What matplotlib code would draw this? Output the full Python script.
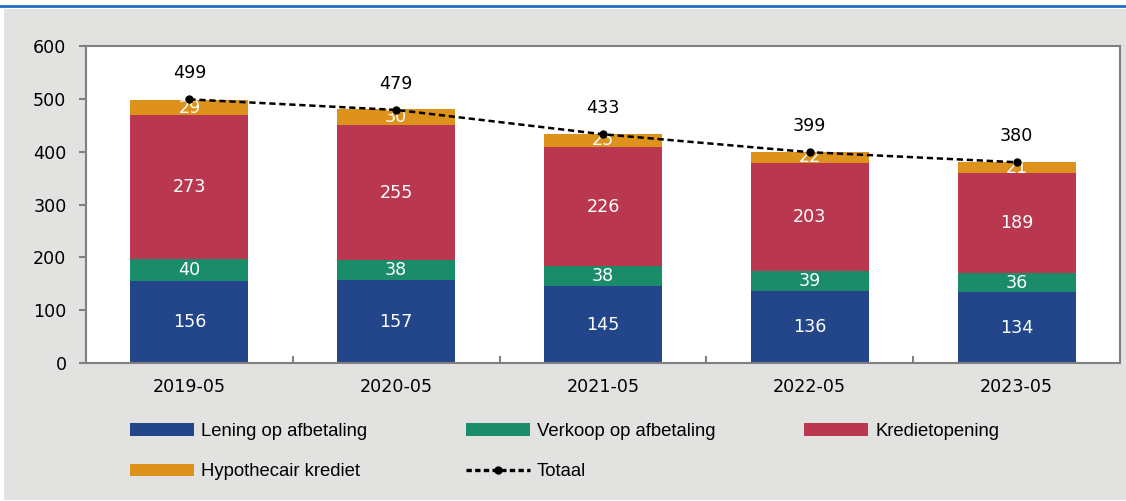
import matplotlib
matplotlib.use("Agg")
import matplotlib.pyplot as plt
from matplotlib.patches import Rectangle, Patch
from matplotlib.lines import Line2D
import numpy as np

plt.rcParams['font.family'] = ['DejaVu Sans']

categories = ["2019-05", "2020-05", "2021-05", "2022-05", "2023-05"]
lening = [156, 157, 145, 136, 134]
verkoop = [40, 38, 38, 39, 36]
krediet = [273, 255, 226, 203, 189]
hypo = [29, 30, 25, 22, 21]
totaal = [499, 479, 433, 399, 380]

series_names = ["Lening op afbetaling", "Verkoop op afbetaling", "Kredietopening", "Hypothecair krediet"]
colors = ["#23468a", "#1a8c6a", "#b9384f", "#dd921c"]

W, H = 1126, 501
fig = plt.figure(figsize=(W/100, H/100), dpi=100)
fig.patch.set_facecolor("#e2e2e0")
fig.patches.append(Rectangle((0, 1-9/H), 1, 9/H, transform=fig.transFigure, facecolor="white", edgecolor="none", zorder=0))
fig.patches.append(Rectangle((0, 0), 4/W, 1, transform=fig.transFigure, facecolor="white", edgecolor="none", zorder=0))
fig.patches.append(Rectangle((0, 0), 1, 1/H, transform=fig.transFigure, facecolor="white", edgecolor="none", zorder=0))
fig.lines.append(Line2D([0, 1], [1-6/H, 1-6/H], transform=fig.transFigure, color="#1f6fc0", lw=2))

NUM = 12.6
ax = fig.add_axes([86/W, (H-363)/H, 1034/W, 317/H])
ax.set_facecolor("white")
x = np.arange(len(categories))
bw = 0.57
bottom = np.zeros(len(categories))
for vals, col in zip([lening, verkoop, krediet, hypo], colors):
    vals = np.array(vals)
    ax.bar(x, vals, bw, bottom=bottom, color=col, zorder=2)
    for xi, b, v in zip(x, bottom, vals):
        ax.text(xi, b + v/2, f"{v}", ha="center", va="center", color="white", fontsize=NUM, zorder=4)
    bottom += vals

ax.plot(x, totaal, color="black", lw=1.8, dashes=(2.5, 1.5), marker="o", markersize=5, zorder=5)
for xi, t in zip(x, totaal):
    ax.text(xi, t + 49, f"{t}", ha="center", va="center", color="black", fontsize=NUM)

ax.set_xlim(-0.5, len(categories) - 0.5)
ax.set_ylim(0, 600)
ax.set_yticks(range(0, 601, 100))
ax.set_xticks(x)
ax.set_xticklabels(categories)
ax.set_xticks(np.arange(0.5, len(categories) - 1, 1), minor=True)
ax.tick_params(axis="x", which="major", length=0, pad=11, labelsize=NUM)
ax.tick_params(axis="x", which="minor", direction="in", length=5, color="#808080", width=1.5)
ax.tick_params(axis="y", length=5, color="#808080", width=1.5, labelsize=NUM, pad=9)
for s in ax.spines.values():
    s.set_color("#808080")
    s.set_linewidth(1.5)

# legend
handles = [Patch(facecolor=c, edgecolor="none") for c in colors]
tot_handle = Line2D([], [], color="black", lw=2.4, dashes=(1.6, 1.0), marker="o", markersize=5)
common = dict(frameon=False, prop={"family": "Liberation Sans", "size": 13.3},
              handlelength=3.45, handleheight=0.65,
              labelspacing=1.27, handletextpad=0.4, borderaxespad=0, borderpad=0)
top = 1 - 423/H
fig.legend([handles[0], handles[3]], [series_names[0], series_names[3]],
           loc="upper left", bbox_to_anchor=(130/W, top), **common)
fig.legend([handles[1], tot_handle], [series_names[1], "Totaal"],
           loc="upper left", bbox_to_anchor=(466/W, top), **common)
fig.legend([handles[2]], [series_names[2]],
           loc="upper left", bbox_to_anchor=(804/W, top), **common)

fig.savefig("out.png", dpi=100, facecolor=fig.get_facecolor())
